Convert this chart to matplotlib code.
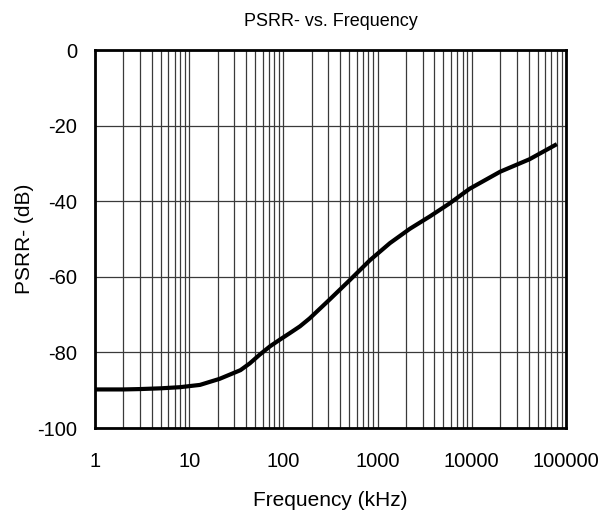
import matplotlib
matplotlib.use("Agg")
import matplotlib.pyplot as plt
from matplotlib.ticker import LogLocator, FixedLocator, NullFormatter

plt.rcParams['font.family'] = ['Liberation Sans', 'DejaVu Sans']

# PSRR- curve
freq_khz = [1, 2, 3, 5, 8, 13, 21, 35, 44, 56, 72, 92, 117, 150, 190, 310, 510,
            830, 1350, 2200, 3600, 5800, 9500, 20000, 41000, 80000]
psrr_db = [-89.8, -89.8, -89.7, -89.5, -89.2, -88.6, -87.0, -84.7, -82.9, -80.6,
           -78.4, -76.6, -74.9, -73.1, -71.0, -66.0, -60.8, -55.6, -51.1, -47.3,
           -44.0, -40.6, -36.7, -32.2, -28.9, -24.9]

x_ticks = [1, 10, 100, 1000, 10000, 100000]
y_ticks = [-100, -80, -60, -40, -20, 0]

fig = plt.figure(figsize=(6.14, 5.13), dpi=100)
ax = fig.add_axes([95 / 614, 1 - 428 / 513, 471 / 614, 378 / 513])

ax.plot(freq_khz, psrr_db, color='black', lw=3, solid_capstyle='butt',
        solid_joinstyle='round', zorder=3)

ax.set_xscale('log')
ax.set_xlim(1, 100000)
ax.set_ylim(-100, 0)
ax.xaxis.set_major_locator(FixedLocator(x_ticks))
ax.xaxis.set_minor_locator(LogLocator(base=10, subs=range(2, 10), numticks=20))
ax.xaxis.set_minor_formatter(NullFormatter())
ax.set_xticklabels([str(t) for t in x_ticks])
ax.yaxis.set_major_locator(FixedLocator(y_ticks))
ax.set_yticklabels([str(t) for t in y_ticks])

ax.grid(True, which='both', axis='x', color='#3a3a3a', lw=0.9)
ax.grid(True, which='major', axis='y', color='#3a3a3a', lw=0.9)
ax.tick_params(which='both', length=0)
ax.tick_params(axis='x', labelsize=14.5, pad=17)
ax.tick_params(axis='y', labelsize=14.5, pad=13)

for sp in ax.spines.values():
    sp.set_linewidth(2)
    sp.set_color('black')

ax.set_title('PSRR- vs. Frequency', fontsize=13, pad=17)
ax.set_xlabel('Frequency (kHz)', fontsize=15, labelpad=15)
ax.set_ylabel('PSRR- (dB)', fontsize=15, labelpad=2)

fig.savefig('out.png', dpi=100)
